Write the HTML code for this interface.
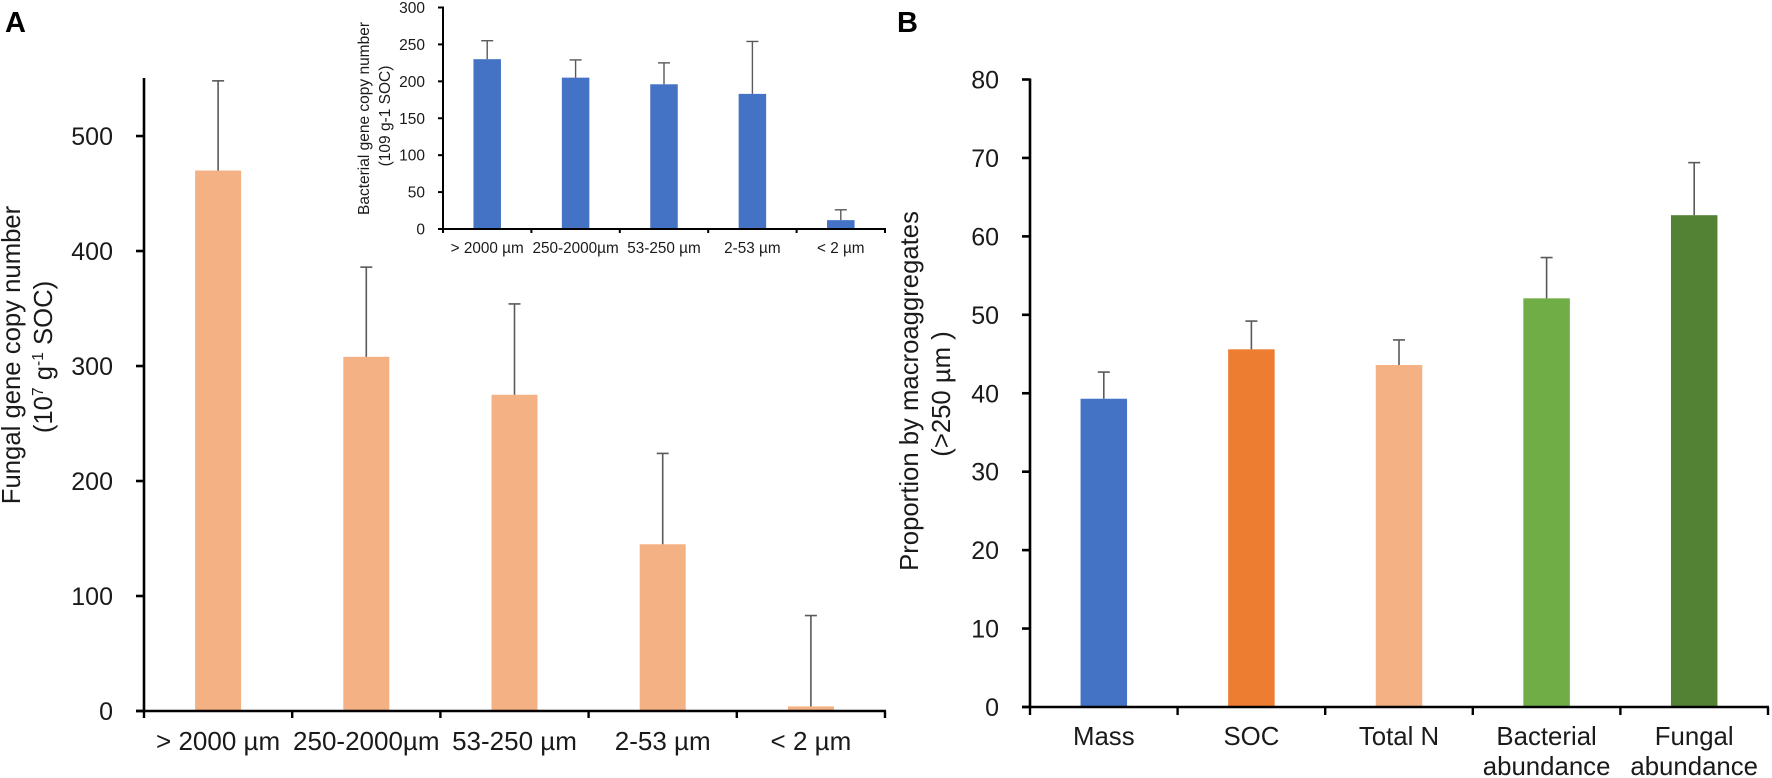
<!DOCTYPE html>
<html lang="en">
<head>
<meta charset="utf-8">
<title>Gene copy number and macroaggregate proportions</title>
<style>
html,body{margin:0;padding:0;background:#fff;width:1772px;height:778px;overflow:hidden}
svg{display:block;font-family:"Liberation Sans",Arial,sans-serif;fill:#1a1a1a}
</style>
</head>
<body>
<svg id="figure" width="1772" height="778" viewBox="0 0 1772 778" xmlns="http://www.w3.org/2000/svg">
  <rect x="0" y="0" width="1772" height="778" fill="#ffffff"/>
  <text x="5" y="32" font-size="29" font-weight="700" fill="#000">A</text>
  <text x="897" y="32" font-size="29" font-weight="700" fill="#000">B</text>

  <text transform="translate(20,355) rotate(-90)" text-anchor="middle" font-size="25.7">Fungal gene copy number</text>
  <text transform="translate(52,357) rotate(-90)" text-anchor="middle" font-size="25.7">(10<tspan font-size="15.5" dy="-9">7</tspan><tspan dy="9"> g</tspan><tspan font-size="15.5" dy="-9">-1</tspan><tspan dy="9"> SOC)</tspan></text>

  <text transform="translate(369,118.5) rotate(-90)" text-anchor="middle" font-size="15.5">Bacterial gene copy number</text>
  <text transform="translate(390,116) rotate(-90)" text-anchor="middle" font-size="15.5">(109 g-1 SOC)</text>

  <text transform="translate(918,391) rotate(-90)" text-anchor="middle" font-size="25.7">Proportion by macroaggregates</text>
  <text transform="translate(950,394) rotate(-90)" text-anchor="middle" font-size="25.7">(&gt;250 µm )</text>

  <g id="fungal-chart"></g>
  <g id="bacterial-chart"></g>
  <g id="proportion-chart"></g>
</svg>
<script>
const fractionCategories = ['> 2000 µm', '250-2000µm', '53-250 µm', '2-53 µm', '< 2 µm'];
const fungalValues = [470, 308, 275, 145, 4];
const fungalErrorTops = [548, 386, 354, 224, 83];
const fungalTicks = [0, 100, 200, 300, 400, 500];

const bacterialValues = [230, 205, 196, 183, 12];
const bacterialErrorTops = [255, 229, 225, 254, 26];
const bacterialTicks = [0, 50, 100, 150, 200, 250, 300];

const proportionCategories = [['Mass'], ['SOC'], ['Total N'], ['Bacterial', 'abundance'], ['Fungal', 'abundance']];
const proportionValues = [39.3, 45.6, 43.6, 52.1, 62.7];
const proportionErrorTops = [42.7, 49.2, 46.8, 57.3, 69.4];
const proportionTicks = [0, 10, 20, 30, 40, 50, 60, 70, 80];
const proportionColors = ['#4472C4', '#ED7D31', '#F4B183', '#70AD47', '#548235'];

const SVG_NS = 'http://www.w3.org/2000/svg';

function make(parent, tag, attrs) {
  const el = document.createElementNS(SVG_NS, tag);
  for (const k in attrs) el.setAttribute(k, attrs[k]);
  parent.appendChild(el);
  return el;
}

function drawChart(opts) {
  const g = document.getElementById(opts.id);
  const yScale = v => opts.y0 - (v / opts.yMax) * (opts.y0 - opts.yTop);
  const band = (opts.xEnd - opts.x0) / opts.categories.length;
  const xCenter = i => opts.x0 + band * (i + 0.5);

  opts.values.forEach((v, i) => {
    const top = yScale(v);
    const color = opts.colors[i % opts.colors.length];
    const bar = make(g, 'rect', {
      x: xCenter(i) - opts.barWidth / 2, y: top,
      width: opts.barWidth, height: opts.y0 - top, fill: color
    });
    
    

    const errTop = yScale(opts.errorTops[i]);
    const stem = make(g, 'line', {
      x1: xCenter(i), x2: xCenter(i), y1: top, y2: errTop,
      stroke: '#595959', 'stroke-width': opts.errWidth
    });
    
    

    const cap = make(g, 'line', {
      x1: xCenter(i) - 6, x2: xCenter(i) + 6, y1: errTop, y2: errTop,
      stroke: '#595959', 'stroke-width': opts.errWidth
    });
    
    
  });

  const yAxis = make(g, 'line', {
    x1: opts.x0, x2: opts.x0, y1: opts.yTop - 1, y2: opts.y0 + opts.axisWidth / 2,
    stroke: '#000', 'stroke-width': opts.axisWidth
  });
  
  

  const xAxis = make(g, 'line', {
    x1: opts.x0 - opts.yTickLen, x2: opts.xEnd + 1, y1: opts.y0, y2: opts.y0,
    stroke: '#000', 'stroke-width': opts.axisWidth
  });
  
  

  opts.ticks.forEach(t => {
    const y = yScale(t);
    const tick = make(g, 'line', {
      x1: opts.x0 - opts.yTickLen, x2: opts.x0, y1: y, y2: y,
      stroke: '#000', 'stroke-width': opts.axisWidth
    });
    
    

    const label = make(g, 'text', {
      x: opts.yLabelX, y: y + opts.tickFont * 0.36,
      'text-anchor': 'end', 'font-size': opts.tickFont
    });
    label.textContent = String(t);
    
    
  });

  for (let i = 0; i <= opts.categories.length; i++) {
    const x = opts.x0 + band * i;
    const tick = make(g, 'line', {
      x1: x, x2: x, y1: opts.y0, y2: opts.y0 + opts.xTickLen,
      stroke: '#000', 'stroke-width': opts.xTickWidth
    });
    
    
  }

  opts.categories.forEach((c, i) => {
    const lines = Array.isArray(c) ? c : [c];
    lines.forEach((line, j) => {
      const label = make(g, 'text', {
        x: xCenter(i), y: opts.xLabelY + j * opts.xLineGap,
        'text-anchor': 'middle', 'font-size': opts.xFont
      });
      label.textContent = line;
      
      
    });
  });
}

drawChart({
  id: 'fungal-chart', prefix: 'fungal',
  categories: fractionCategories, values: fungalValues, errorTops: fungalErrorTops,
  ticks: fungalTicks, colors: ['#F4B183'],
  x0: 144, xEnd: 885, y0: 711, yTop: 79, yMax: 549.6,
  barWidth: 46, errWidth: 1.6, axisWidth: 2.6,
  yTickLen: 8, xTickLen: 7, xTickWidth: 2.4,
  yLabelX: 113, tickFont: 25, xFont: 26, xLabelY: 750, xLineGap: 30
});

drawChart({
  id: 'bacterial-chart', prefix: 'bacterial',
  categories: fractionCategories, values: bacterialValues, errorTops: bacterialErrorTops,
  ticks: bacterialTicks, colors: ['#4472C4'],
  x0: 443, xEnd: 885, y0: 229, yTop: 7.5, yMax: 300,
  barWidth: 27.5, errWidth: 1.4, axisWidth: 2,
  yTickLen: 5, xTickLen: 4, xTickWidth: 2,
  yLabelX: 425, tickFont: 15.5, xFont: 15.3, xLabelY: 253, xLineGap: 18
});

drawChart({
  id: 'proportion-chart', prefix: 'proportion',
  categories: proportionCategories, values: proportionValues, errorTops: proportionErrorTops,
  ticks: proportionTicks, colors: proportionColors,
  x0: 1030, xEnd: 1768, y0: 707, yTop: 79.5, yMax: 80,
  barWidth: 46.5, errWidth: 1.6, axisWidth: 2.6,
  yTickLen: 8, xTickLen: 8, xTickWidth: 2.4,
  yLabelX: 999, tickFont: 25, xFont: 25.8, xLabelY: 745, xLineGap: 30
});
</script>
</body>
</html>
